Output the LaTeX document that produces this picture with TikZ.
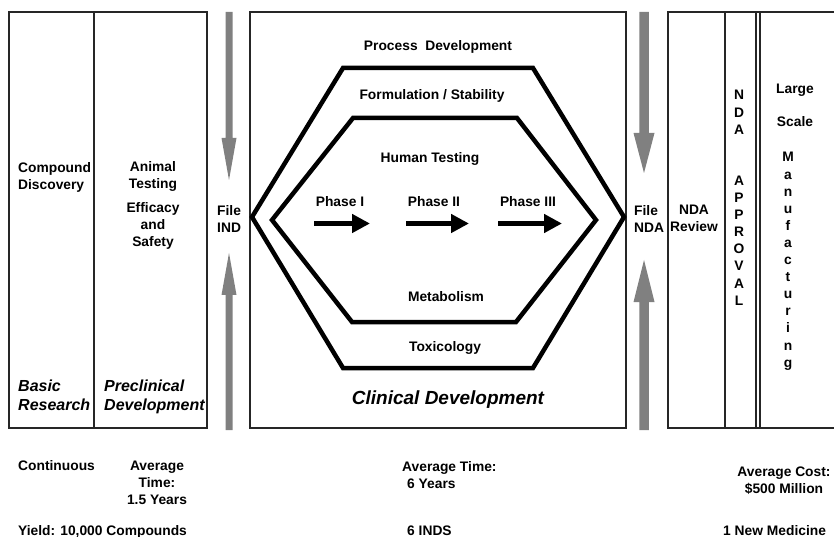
\documentclass[tikz,border=0pt]{standalone}
\usepackage{fontspec}
\setmainfont{Liberation Sans}
\usetikzlibrary{arrows.meta}
% several lines stacked; the box baseline is the baseline of the first line
\newcommand{\stackrows}[2]{\begin{tabular}[t]{@{}#1@{}}#2\end{tabular}}

\begin{document}
\begin{tikzpicture}[x=1bp,y=-1bp,
  txt/.style={inner sep=0pt, font=\fontsize{13.8bp}{17bp}\selectfont\bfseries},
  letters/.style={inner sep=0pt, font=\fontsize{13.8bp}{17.1bp}\selectfont\bfseries},
  ital/.style={inner sep=0pt, font=\fontsize{16bp}{19bp}\selectfont\bfseries\itshape},
  bigital/.style={inner sep=0pt, font=\fontsize{19bp}{23bp}\selectfont\bfseries\itshape},
  frame/.style={draw=black!85, line width=1.1bp},
  hexline/.style={draw=black, line width=4.5bp, line join=miter},
  gatearrow/.style={fill=black!50},
  phasearrow/.style={draw=black, line width=5bp, -{Triangle[length=18bp,width=18bp]}}
]
\useasboundingbox (0,0) rectangle (834,537);

% ---- stage frames ----
\draw[frame] (9,12) rectangle (207,428);
\draw[frame] (94,12) -- (94,428);
\draw[frame] (250,12) rectangle (626,428);
\draw[frame] (836,12) -- (668,12) -- (668,428) -- (836,428);
\draw[frame] (725,12) -- (725,428);
\draw[frame] (756,12) -- (756,428);
\draw[frame] (760,12) -- (760,428);

% ---- gray filing arrows ----
\fill[gatearrow] (225.5,12) -- (232.5,12) -- (232.5,138) -- (236.5,138) -- (229,180)
  -- (221.5,138) -- (225.5,138) -- cycle;
\fill[gatearrow] (225.5,430) -- (232.5,430) -- (232.5,295) -- (236.5,295) -- (229,253)
  -- (221.5,295) -- (225.5,295) -- cycle;
\fill[gatearrow] (639.25,12) -- (648.75,12) -- (648.75,133) -- (654.5,133) -- (644,173)
  -- (633.5,133) -- (639.25,133) -- cycle;
\fill[gatearrow] (639.25,430) -- (648.75,430) -- (648.75,302) -- (654.5,302) -- (644,260)
  -- (633.5,302) -- (639.25,302) -- cycle;

% ---- nested hexagons ----
\draw[hexline] (252,217) -- (343,68) -- (533,68) -- (624,217) -- (533,368) -- (343,368) -- cycle;
\draw[hexline] (272,220) -- (353,118) -- (517,118) -- (596,220) -- (516,322) -- (352,322) -- cycle;

% ---- left stages ----
\node[txt, anchor=base west] (compound) at (18,173) {\stackrows{l}{Compound\\Discovery}};
\node[txt, anchor=base] (animal) at (153,172) {\stackrows{c}{Animal\\Testing}};
\node[txt, anchor=base] (efficacy) at (153,213) {\stackrows{c}{Efficacy\\and\\Safety}};
\node[ital, anchor=base west] (basic) at (18,391) {\stackrows{l}{Basic\\Research}};
\node[ital, anchor=base west] (preclin) at (104,391) {\stackrows{l}{Preclinical\\Development}};
\node[txt, anchor=base west] (fileind) at (217,216) {\stackrows{l}{File\\IND}};

% ---- clinical development ----
\node[txt, anchor=base] (process) at (438,51) {Process~~Development};
\node[txt, anchor=base] (formul) at (432,100) {Formulation / Stability};
\node[txt, anchor=base] (human) at (430,163) {Human Testing};
\node[txt, anchor=base] (ph1) at (340,207) {Phase I};
\node[txt, anchor=base] (ph2) at (434,207) {Phase II};
\node[txt, anchor=base] (ph3) at (528,207) {Phase III};
\coordinate (a1s) at (314,223.5); \coordinate (a1e) at (370,223.5);
\coordinate (a2s) at (406,223.5); \coordinate (a2e) at (469,223.5);
\coordinate (a3s) at (498,223.5); \coordinate (a3e) at (562,223.5);
\draw[phasearrow] (a1s) -- (a1e);
\draw[phasearrow] (a2s) -- (a2e);
\draw[phasearrow] (a3s) -- (a3e);
\node[txt, anchor=base] (metab) at (446,302) {Metabolism};
\node[txt, anchor=base] (toxic) at (445,351) {Toxicology};
\node[bigital, anchor=base] (clinical) at (448,404) {Clinical Development};

% ---- right stages ----
\node[txt, anchor=base west] (filenda) at (634,216) {\stackrows{l}{File\\NDA}};
\node[txt, anchor=base] (review) at (694,215) {\stackrows{c}{NDA\\Review}};
\node[letters, anchor=base] (approval) at (739,100)
  {\stackrows{c}{N\\D\\A\\\\\\A\\P\\P\\R\\O\\V\\A\\L}};
\node[txt, anchor=base] (large) at (795,94) {Large};
\node[txt, anchor=base] (scale) at (795,127) {Scale};
\node[letters, anchor=base] (manuf) at (788,162)
  {\stackrows{c}{M\\a\\n\\u\\f\\a\\c\\t\\u\\r\\i\\n\\g}};

% ---- figures below the stages ----
\node[txt, anchor=base west] (cont) at (18,470) {Continuous};
\node[txt, anchor=base] (time1) at (157,470) {\stackrows{c}{Average\\Time:\\1.5 Years}};
\node[txt, anchor=base west] (yield) at (18,535) {Yield: 10,000 Compounds};
\node[txt, anchor=base west] (time2) at (402,471) {\stackrows{l}{Average Time:\\\hspace{5bp}6 Years}};
\node[txt, anchor=base west] (inds) at (407,535) {6 INDS};
\node[txt, anchor=base] (cost) at (784,476) {\stackrows{c}{Average Cost:\\\$500 Million}};
\node[txt, anchor=base west] (medicine) at (723,535) {1 New Medicine};
\end{tikzpicture}
\end{document}
